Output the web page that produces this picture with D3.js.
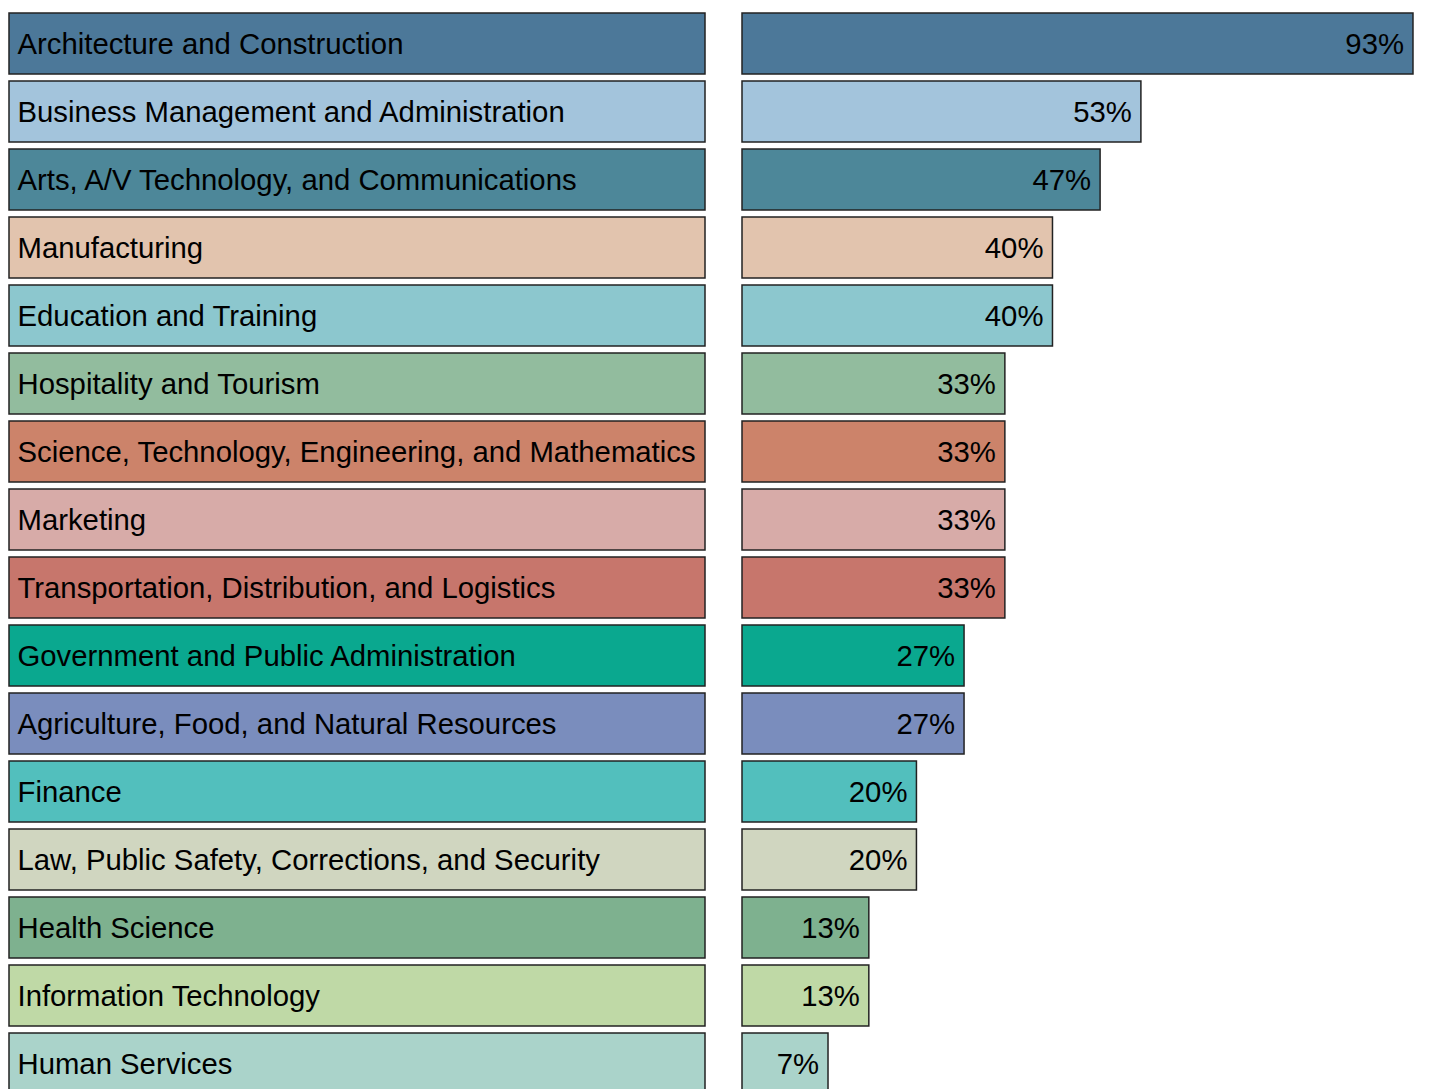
<!DOCTYPE html>
<html>
<head>
<meta charset="utf-8">
<script src="https://cdn.jsdelivr.net/npm/d3@7"></script>
<style>
  body { margin: 0; background: #fff; }
  svg { display: block; }
</style>
</head>
<body>
<svg id="chart"></svg>
<script>
const categories = [
    'Architecture and Construction',
    'Business Management and Administration',
    'Arts, A/V Technology, and Communications',
    'Manufacturing',
    'Education and Training',
    'Hospitality and Tourism',
    'Science, Technology, Engineering, and Mathematics',
    'Marketing',
    'Transportation, Distribution, and Logistics',
    'Government and Public Administration',
    'Agriculture, Food, and Natural Resources',
    'Finance',
    'Law, Public Safety, Corrections, and Security',
    'Health Science',
    'Information Technology',
    'Human Services'
];
const values = [93, 53, 47, 40, 40, 33, 33, 33, 33, 27, 27, 20, 20, 13, 13, 7];
const colors = [
    '#4c7899', '#a3c4dc', '#4d8799', '#e2c4ae', '#8cc7ce', '#92bc9e',
    '#cc836a', '#d7aba8', '#c7766c', '#0aa88f', '#7a8dbd', '#52bfbd',
    '#d0d6c0', '#7eb18f', '#bfd9a6', '#aad3ca'
];

const width = 1456, height = 1089;
const labelX0 = 9, labelX1 = 705, barX0 = 742;
const fontSize = 29.3;

const data = categories.map((c, i) => ({ label: c, value: values[i], color: colors[i] }));

const svg = d3.select('#chart')
    .attr('width', width)
    .attr('height', height);

const y = d3.scaleBand()
    .domain(categories)
    .range([9.5, 1097.5])
    .paddingInner(7 / 68)
    .paddingOuter(3.5 / 68);

// bar end position
const x = d3.scaleLinear()
    .domain([0, 100])
    .range([780.4, 1460.6]);

const row = svg.selectAll('g.row').data(data)
    .join('g')
    .attr('class', 'row')
    .attr('transform', d => `translate(0, ${y(d.label)})`);

row.append('rect')
    .attr('x', labelX0)
    .attr('y', 0)
    .attr('width', labelX1 - labelX0)
    .attr('height', y.bandwidth())
    .attr('fill', d => d.color)
    .attr('stroke', '#222')
    .attr('stroke-width', 1.5);

row.append('text')
    .attr('x', 17.5)
    .attr('y', y.bandwidth() / 2)
    .attr('dy', '0.35em')
    .attr('font-family', '"Liberation Sans", Arial, sans-serif')
    .attr('font-size', fontSize)
    .attr('fill', '#000')
    .text(d => d.label);

row.append('rect')
    .attr('x', barX0)
    .attr('y', 0)
    .attr('width', d => x(d.value) - barX0)
    .attr('height', y.bandwidth())
    .attr('fill', d => d.color)
    .attr('stroke', '#222')
    .attr('stroke-width', 1.5);

row.append('text')
    .attr('x', d => x(d.value) - 9)
    .attr('y', y.bandwidth() / 2)
    .attr('dy', '0.35em')
    .attr('text-anchor', 'end')
    .attr('font-family', '"Liberation Sans", Arial, sans-serif')
    .attr('font-size', fontSize)
    .attr('fill', '#000')
    .text(d => d.value + '%');
</script>
</body>
</html>
